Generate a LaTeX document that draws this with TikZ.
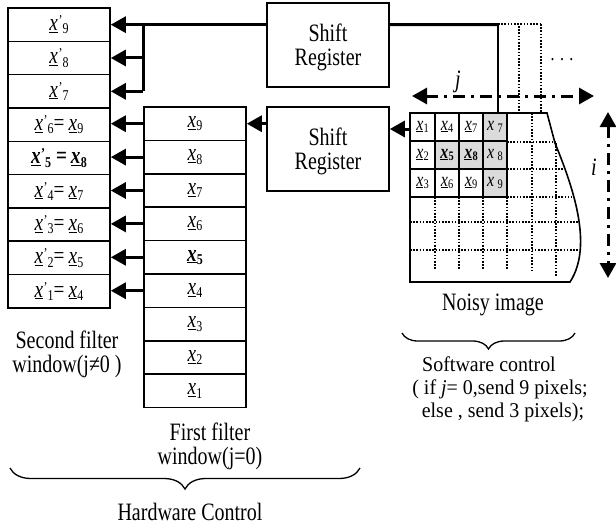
\documentclass[tikz,border=0pt]{standalone}
\usepackage{fontspec}
\setmainfont[FakeStretch=0.8]{Liberation Serif}
\newfontfamily\swfamily[FakeStretch=0.95]{Liberation Serif}
\usetikzlibrary{arrows.meta,decorations.pathreplacing}
\newcommand{\lblfont}{\fontsize{25}{24}\selectfont}
\newcommand{\cellfont}{\fontsize{24}{25}\selectfont}
\newcommand{\gridfont}{\fontsize{20}{21}\selectfont}
\newcommand{\subsz}{\fontsize{15}{17}\selectfont}
\newcommand{\ux}{\underline{\textit{x}}}
\newcommand{\xs}[1]{\ux\kern0.3pt\raisebox{-0.3ex}{\subsz #1}}
\newcommand{\xp}[1]{\ux\kern0.5pt\raisebox{0.45ex}{\subsz ’}\raisebox{-0.3ex}{\subsz #1}}
\newcommand{\gs}[1]{\ux\kern0.2pt\raisebox{-0.3ex}{\fontsize{13}{15}\selectfont #1}}
\begin{document}
\begin{tikzpicture}[x=1pt,y=-1pt,
  cellL/.style={draw, line width=1.6pt, minimum width=102pt, minimum height=33.3pt, inner sep=0pt, font=\cellfont},
  srbox/.style={draw, line width=1.6pt, minimum width=122pt, minimum height=84pt, inner sep=0pt, align=center, font=\lblfont, text depth=0pt},
  gcell/.style={draw, line width=1.4pt, minimum width=24.3pt, minimum height=28pt, inner sep=0pt, font=\gridfont},
  grey/.style={fill=black!14},
  arr/.style={line width=3pt, -{Triangle[length=15pt,width=16pt]}},
  link/.style={line width=3pt},
  thinlink/.style={line width=1.4pt},
  dots/.style={line width=1.6pt, dash pattern=on 1.6pt off 1.6pt},
  dasharr/.style={line width=3pt, dash pattern=on 12pt off 6pt on 3pt off 6pt, {Triangle[length=15pt,width=16pt]}-{Triangle[length=15pt,width=16pt]}},
  lbl/.style={font=\lblfont, align=center, inner sep=0pt},
  swlbl/.style={font=\swfamily\fontsize{21}{23}\selectfont, align=center, inner sep=0pt}]
\useasboundingbox (0,0) rectangle (616,528);

% left column (second filter window)
\foreach \i/\t in {1/{\xp{9}},2/{\xp{8}},3/{\xp{7}},4/{\xp{6}=\,\xs{9}},
  5/{\bfseries\xp{5} =\,\xs{8}},6/{\xp{4}=\,\xs{7}},7/{\xp{3}=\,\xs{6}},8/{\xp{2}=\,\xs{5}},9/{\xp{1}=\,\xs{4}}}
  \node[cellL] (L\i) at (59, 8+33.33*\i-16.67) {\t};

% middle column (first filter window)
\foreach \i/\t in {1/{\xs{9}},2/{\xs{8}},3/{\xs{7}},4/{\xs{6}},5/{\bfseries\xs{5}},
  6/{\xs{4}},7/{\xs{3}},8/{\xs{2}},9/{\xs{1}}}
  \node[cellL] (M\i) at (195, 107+33.4*\i-16.7) {\t};

% shift registers
\node[srbox] (SR1) at (328,45) {Shift\\Register};
\node[srbox] (SR2) at (328,149) {Shift\\Register};

% noisy image outline
\draw[line width=1.6pt] (410,113) -- (547,113) -- (555,143)
  .. controls (572,185) and (594,245) .. (570,282) -- (410,282) -- cycle;

% dotted grid lines
\draw[dots] (507,142) -- (556,142);
\draw[dots] (507,169) -- (563,169);
\draw[dots] (507,197) -- (572,197);
\draw[dots] (410,222) -- (579,222);
\draw[dots] (410,250) -- (581,250);
\foreach \xx in {435,459,483,507} \draw[dots] (\xx,197) -- (\xx,270);
\draw[dots] (532,113) -- (532,270);
\draw[dots] (556,143) -- (556,277);
\draw[dots] (498,24) -- (541,24);
\draw[dots] (519,26) -- (519,113);
\draw[dots] (541,24) -- (541,113);
\node[font=\gridfont, inner sep=0pt] (more) at (562,60) {. . .};

% grid cells
\foreach \r/\yy in {1/127,2/155,3/183}
  \foreach \c/\xx in {1/422.5,2/447,3/471,4/495}
    \coordinate (P\r\c) at (\xx,\yy);
\node[gcell] (G11) at (P11) {\gs{1}};
\node[gcell] (G12) at (P12) {\gs{4}};
\node[gcell] (G13) at (P13) {\gs{7}};
\node[gcell,grey] (G14) at (P14) {\textit{x}\,\raisebox{-0.3ex}{\fontsize{13}{15}\selectfont 7}};
\node[gcell] (G21) at (P21) {\gs{2}};
\node[gcell,grey] (G22) at (P22) {\bfseries\gs{5}};
\node[gcell,grey] (G23) at (P23) {\bfseries\gs{8}};
\node[gcell,grey] (G24) at (P24) {\textit{x}\,\raisebox{-0.3ex}{\fontsize{13}{15}\selectfont 8}};
\node[gcell] (G31) at (P31) {\gs{3}};
\node[gcell] (G32) at (P32) {\gs{6}};
\node[gcell] (G33) at (P33) {\gs{9}};
\node[gcell,grey] (G34) at (P34) {\textit{x}\,\raisebox{-0.3ex}{\fontsize{13}{15}\selectfont 9}};

% j and i arrows
\coordinate (jL) at (412,96);
\coordinate (jR) at (594,96);
\draw[dasharr] (jL) -- (jR);
\node[font=\lblfont\itshape, inner sep=0pt] (jlab) at (458,82) {j};
\coordinate (iT) at (608,112);
\coordinate (iB) at (608,278);
\draw[dasharr] (iT) -- (iB);
\node[font=\lblfont\itshape, inner sep=0pt] (ilab) at (594,167) {i};

% connectors from shift register 1
\coordinate (B1) at (M1.west |- L1.east);
\draw[arr] (SR1.west |- L1.east) -- (L1.east);
\draw[link] (B1) -- (B1 |- L3.east);
\draw[arr] (B1 |- L2.east) -- (L2.east);
\draw[arr] (B1 |- L3.east) -- (L3.east);
\coordinate (C1) at (498,24.7);
\draw[link] (SR1.east |- L1.east) -- (C1);
\draw[thinlink] (C1) -- (C1 |- G14.north);

% connectors from first window to second window
\foreach \i/\j in {1/4,2/5,3/6,4/7,5/8,6/9}
  \draw[arr] (M\i.west) -- (M\i.west -| L\j.east);

% shift register 2 links
\draw[arr] (SR2.west |- M1.east) -- (M1.east);
\draw[arr] (G11.west |- 0,129) -- (SR2.east |- 0,129);

% labels
\node[lbl] (noisy) at (493,305) {Noisy image};
\draw[decorate, decoration={brace, mirror, amplitude=16pt}, line width=1.3pt] (402,333) -- (575,333);
\node[swlbl] (sw) at (500,389) {Software control\hspace*{22pt}\\( if \textit{j}= 0,send 9 pixels;\\\hspace*{6pt}else , send 3 pixels);};

\node[lbl] (second) at (67,354) {Second filter\\window(j≠0 )};
\node[lbl] (first) at (210,446) {First filter\\window(j=0)};
\draw[decorate, decoration={brace, mirror, amplitude=21pt}, line width=1.3pt] (10,468) -- (360,468);
\node[lbl] (hw) at (190,512) {Hardware Control};
\end{tikzpicture}
\end{document}
